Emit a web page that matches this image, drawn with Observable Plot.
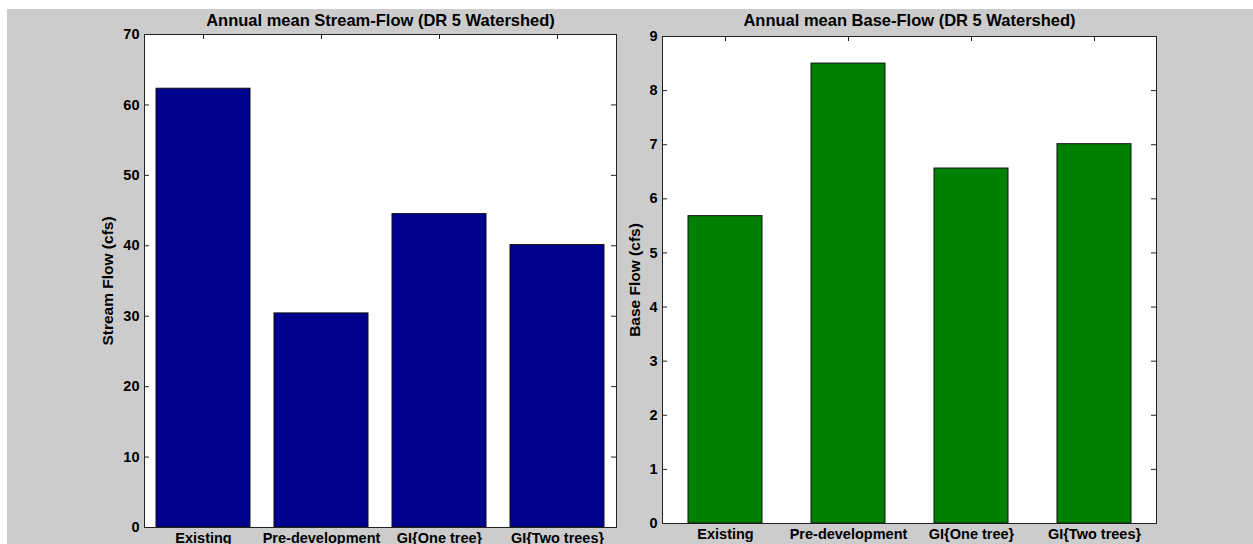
<!DOCTYPE html>
<html>
<head>
<meta charset="utf-8">
<script src="https://cdn.jsdelivr.net/npm/d3@7"></script>
<script src="https://cdn.jsdelivr.net/npm/@observablehq/plot@0.6"></script>
<style>
  html, body { margin: 0; padding: 0; background: #ffffff; width: 1253px; height: 544px; overflow: hidden; }
  #bg { position: absolute; left: 7px; top: 9px; right: 0; bottom: 0; background: #cccccc; }
  .panel { position: absolute; top: 0; }
</style>
</head>
<body>
<div id="bg"></div>
<div id="left" class="panel" style="left:0px"></div>
<div id="right" class="panel" style="left:620px"></div>
<script>
const categories = ["Existing", "Pre-development", "GI{One tree}", "GI{Two trees}"];
const streamFlow = [62.3, 30.4, 44.5, 40.1];
const baseFlow = [5.68, 8.5, 6.56, 7.01];
const streamTicks = [0, 10, 20, 30, 40, 50, 60, 70];
const baseTicks = [0, 1, 2, 3, 4, 5, 6, 7, 8, 9];
const titles = ["Annual mean Stream-Flow (DR 5 Watershed)", "Annual mean Base-Flow (DR 5 Watershed)"];
const yLabels = ["Stream Flow (cfs)", "Base Flow (cfs)"];

const FONT = "'Liberation Sans', Arial, Helvetica, sans-serif";

function panel({values, ticks, ymax, title, ylabel, fill, width, height, mL, mR, mT, mB, padIn, padOut, ylabelDx, titleDy}) {
  const data = categories.map((c, i) => ({cat: c, value: values[i]}));
  const pw = width - mL - mR;
  const ph = height - mT - mB;
  const tk = 5;
  const tickColor = "#222";
  return Plot.plot({
    width, height,
    marginLeft: mL, marginRight: mR, marginTop: mT, marginBottom: mB,
    style: {background: "transparent", fontFamily: FONT, fontSize: "14.5px", fontWeight: "bold", color: "#000", overflow: "visible"},
    x: {type: "band", domain: categories, paddingInner: padIn, paddingOuter: padOut},
    y: {domain: [0, ymax]},
    marks: [
      Plot.frame({fill: "white", stroke: null}),
      // inward ticks (drawn below the bars, as in the original)
      Plot.tickY(ticks, {y: d => d, insetRight: pw - tk, stroke: tickColor}),
      Plot.tickY(ticks, {y: d => d, insetLeft: pw - tk, stroke: tickColor}),
      Plot.tickX(categories, {x: d => d, insetBottom: ph - tk, stroke: tickColor}),
      Plot.tickX(categories, {x: d => d, insetTop: ph - tk, stroke: tickColor}),
      Plot.barY(data, {x: "cat", y: "value", fill, stroke: "#111", strokeWidth: 1}),
      Plot.frame({stroke: "#222", strokeWidth: 1}),
      Plot.axisX({anchor: "bottom", tickSize: 0, tickPadding: 5, label: null, fontSize: 14.5, fontWeight: "bold"}),
      Plot.axisY(ticks, {anchor: "left", tickSize: 0, tickPadding: 5, label: null, tickFormat: d3.format("d"), fontSize: 14.5, fontWeight: "bold"}),
      Plot.text([title], {text: d => d, frameAnchor: "top", textAnchor: "middle", dy: titleDy, lineAnchor: "bottom", fontSize: 16.5, fontWeight: "bold", fill: "#000"}),
      Plot.text([ylabel], {text: d => d, frameAnchor: "left", textAnchor: "middle", lineAnchor: "middle", rotate: -90, dx: ylabelDx, fontSize: 15.5, fontWeight: "bold", fill: "#000"})
    ]
  });
}

document.getElementById("left").append(panel({
  values: streamFlow, ticks: streamTicks, ymax: 70, title: titles[0], ylabel: yLabels[0], fill: "#00008f",
  width: 640, height: 544, mL: 144, mR: 24, mT: 34, mB: 17, padIn: 0.2, padOut: 0.1, ylabelDx: -36, titleDy: -9
}));

document.getElementById("right").append(panel({
  values: baseFlow, ticks: baseTicks, ymax: 9, title: titles[1], ylabel: yLabels[1], fill: "#008000",
  width: 633, height: 544, mL: 42, mR: 97, mT: 36, mB: 21, padIn: 0.4, padOut: 0.2, ylabelDx: -27, titleDy: -11
}));
</script>
</body>
</html>
